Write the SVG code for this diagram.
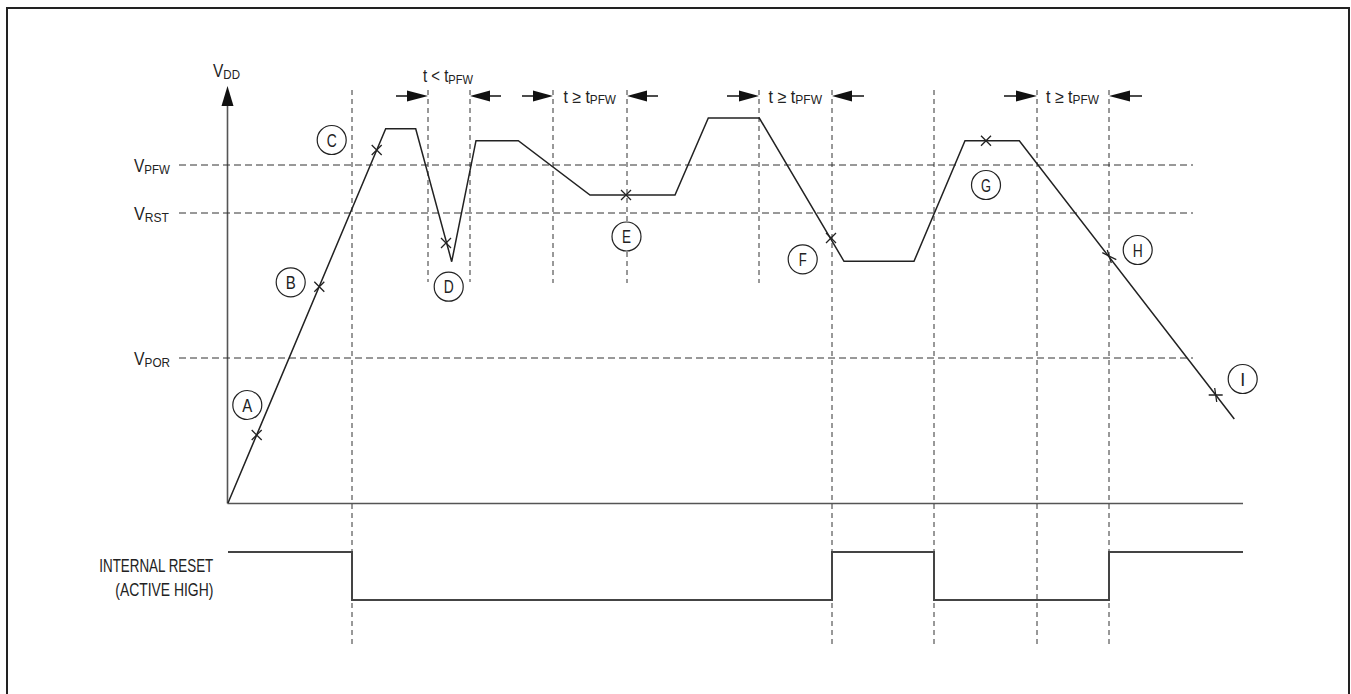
<svg xmlns="http://www.w3.org/2000/svg" width="1351" height="694" viewBox="0 0 1351 694">
<style>
  text { font-family: "Liberation Sans Narrow", "Liberation Sans", Arial, sans-serif; fill: #222; }
  .big { font-size: 17.5px; }
  .sub { font-size: 13px; }
  .lbl { font-size: 18px; text-anchor: middle; }
  .hdash { stroke: #333; stroke-width: 1; stroke-dasharray: 7 4; fill: none; }
  .vdash { stroke: #333; stroke-width: 1; stroke-dasharray: 5 4; fill: none; }
  .curve { stroke: #222; stroke-width: 1.5; fill: none; stroke-linejoin: miter; }
  .axis { stroke: #555; stroke-width: 1.6; fill: none; }
  .mark { stroke: #222; stroke-width: 1.3; fill: none; }
  .circ { stroke: #222; stroke-width: 1.2; fill: #fff; }
  .arr { stroke: #111; stroke-width: 1.5; fill: none; }
  .head { fill: #111; stroke: none; }
  .reset { stroke: #444; stroke-width: 2; fill: none; }
</style>

<g id="border">
  <path d="M7,700 V8 H1349 V700" fill="none" stroke="#222" stroke-width="2"/>
</g>

<g id="axes">
  <line class="axis" x1="227.5" y1="104" x2="227.5" y2="503.5"/>
  <polygon class="head" points="227.5,86 221.5,106 233.5,106"/>
  <line class="axis" x1="227.5" y1="503.5" x2="1243" y2="503.5"/>
  <text class="big" x="213" y="77" textLength="27" lengthAdjust="spacingAndGlyphs">V<tspan class="sub" dy="2">DD</tspan></text>
</g>

<g id="levels">
  <line class="hdash" x1="179" y1="165" x2="1193" y2="165"/>
  <line class="hdash" x1="179" y1="213" x2="1193" y2="213"/>
  <line class="hdash" x1="179" y1="358" x2="1193" y2="358"/>
  <text class="big" x="134" y="172" textLength="36" lengthAdjust="spacingAndGlyphs">V<tspan class="sub" dy="2">PFW</tspan></text>
  <text class="big" x="134" y="220" textLength="35" lengthAdjust="spacingAndGlyphs">V<tspan class="sub" dy="2">RST</tspan></text>
  <text class="big" x="134" y="365" textLength="36" lengthAdjust="spacingAndGlyphs">V<tspan class="sub" dy="2">POR</tspan></text>
</g>

<g id="connectors">
  <line class="vdash" x1="352" y1="90" x2="352" y2="645"/>
  <line class="vdash" x1="428" y1="90" x2="428" y2="282"/>
  <line class="vdash" x1="470" y1="90" x2="470" y2="282"/>
  <line class="vdash" x1="553" y1="90" x2="553" y2="283"/>
  <line class="vdash" x1="627" y1="90" x2="627" y2="283"/>
  <line class="vdash" x1="759" y1="90" x2="759" y2="283"/>
  <line class="vdash" x1="832" y1="90" x2="832" y2="645"/>
  <line class="vdash" x1="934" y1="90" x2="934" y2="645"/>
  <line class="vdash" x1="1037" y1="90" x2="1037" y2="645"/>
  <line class="vdash" x1="1109" y1="90" x2="1109" y2="645"/>
</g>

<g id="timing-arrows">
  <line class="arr" x1="396" y1="96" x2="408" y2="96"/>
  <polygon class="head" points="407,90.5 428,96 407,101.5"/>
  <polygon class="head" points="470,96 490,90.5 490,101.5"/>
  <line class="arr" x1="489" y1="96" x2="501" y2="96"/>

  <line class="arr" x1="522" y1="96" x2="534" y2="96"/>
  <polygon class="head" points="533,90.5 553,96 533,101.5"/>
  <polygon class="head" points="627,96 647,90.5 647,101.5"/>
  <line class="arr" x1="646" y1="96" x2="658" y2="96"/>

  <line class="arr" x1="727" y1="96" x2="740" y2="96"/>
  <polygon class="head" points="739,90.5 759,96 739,101.5"/>
  <polygon class="head" points="832,96 852,90.5 852,101.5"/>
  <line class="arr" x1="851" y1="96" x2="864" y2="96"/>

  <line class="arr" x1="1004" y1="96" x2="1017" y2="96"/>
  <polygon class="head" points="1016,90.5 1037,96 1016,101.5"/>
  <polygon class="head" points="1109,96 1130,90.5 1130,101.5"/>
  <line class="arr" x1="1129" y1="96" x2="1142" y2="96"/>

  <text class="big" x="423" y="82" textLength="50" lengthAdjust="spacingAndGlyphs">t &lt; t<tspan class="sub" dy="1.5">PFW</tspan></text>
  <text class="big" x="563.5" y="102.5" textLength="52.5" lengthAdjust="spacingAndGlyphs">t ≥ t<tspan class="sub" dy="1">PFW</tspan></text>
  <text class="big" x="768.5" y="102.5" textLength="53.5" lengthAdjust="spacingAndGlyphs">t ≥ t<tspan class="sub" dy="1">PFW</tspan></text>
  <text class="big" x="1046" y="102.5" textLength="53" lengthAdjust="spacingAndGlyphs">t ≥ t<tspan class="sub" dy="1">PFW</tspan></text>
</g>

<g id="vdd-curve">
  <polyline class="curve" points="228,503 385.7,128.7 415.7,128.7 451.7,261.7 476,140.7 518.3,140.7 590,195 675,195 708.3,118 759.3,118 844,261.3 914,261.3 965,140.7 1019.3,140.7 1234.3,419"/>
</g>

<g id="marks">
  <path class="mark" d="M251.7,430 l10,10 M261.7,430 l-10,10"/>
  <path class="mark" d="M314.3,281.7 l10,10 M324.3,281.7 l-10,10"/>
  <path class="mark" d="M371.7,145 l10,10 M381.7,145 l-10,10"/>
  <path class="mark" d="M441,238 l10,10 M451,238 l-10,10"/>
  <path class="mark" d="M621,190 l10,10 M631,190 l-10,10"/>
  <path class="mark" d="M826,233 l10,10 M836,233 l-10,10"/>
  <path class="mark" d="M981,135.7 l10,10 M991,135.7 l-10,10"/>
  <path class="mark" d="M1102.3,252.7 l14,7 M1107.3,250 l4,13"/>
  <path class="mark" d="M1208.7,395 h14 M1214.7,388 l2,14"/>
</g>

<g id="node-A"><circle class="circ" cx="247.3" cy="405" r="14.5"/><text class="lbl" x="247.3" y="411.5" textLength="10" lengthAdjust="spacingAndGlyphs">A</text></g>
<g id="node-B"><circle class="circ" cx="290.7" cy="282.3" r="14.5"/><text class="lbl" x="290.7" y="288.8" textLength="10" lengthAdjust="spacingAndGlyphs">B</text></g>
<g id="node-C"><circle class="circ" cx="331.7" cy="140" r="14.5"/><text class="lbl" x="331.7" y="146.5" textLength="10" lengthAdjust="spacingAndGlyphs">C</text></g>
<g id="node-D"><circle class="circ" cx="448.7" cy="286.7" r="14.5"/><text class="lbl" x="448.7" y="293.2" textLength="10" lengthAdjust="spacingAndGlyphs">D</text></g>
<g id="node-E"><circle class="circ" cx="626.5" cy="236.5" r="14.5"/><text class="lbl" x="626.5" y="243" textLength="9" lengthAdjust="spacingAndGlyphs">E</text></g>
<g id="node-F"><circle class="circ" cx="802.7" cy="259.3" r="14.5"/><text class="lbl" x="802.7" y="265.8" textLength="8" lengthAdjust="spacingAndGlyphs">F</text></g>
<g id="node-G"><circle class="circ" cx="986" cy="185" r="14.5"/><text class="lbl" x="986" y="191.5" textLength="10" lengthAdjust="spacingAndGlyphs">G</text></g>
<g id="node-H"><circle class="circ" cx="1137.7" cy="250" r="14.5"/><text class="lbl" x="1137.7" y="256.5" textLength="10" lengthAdjust="spacingAndGlyphs">H</text></g>
<g id="node-I"><circle class="circ" cx="1242.7" cy="379" r="14.5"/><text class="lbl" x="1242.7" y="385.5">I</text></g>

<g id="reset">
  <polyline class="reset" points="228,552 352,552 352,600 832,600 832,552 934,552 934,600 1109,600 1109,552 1243,552"/>
  <text class="big" x="213.3" y="572" text-anchor="end" textLength="114" lengthAdjust="spacingAndGlyphs">INTERNAL RESET</text>
  <text class="big" x="213.3" y="596" text-anchor="end" textLength="98" lengthAdjust="spacingAndGlyphs">(ACTIVE HIGH)</text>
</g>
</svg>
